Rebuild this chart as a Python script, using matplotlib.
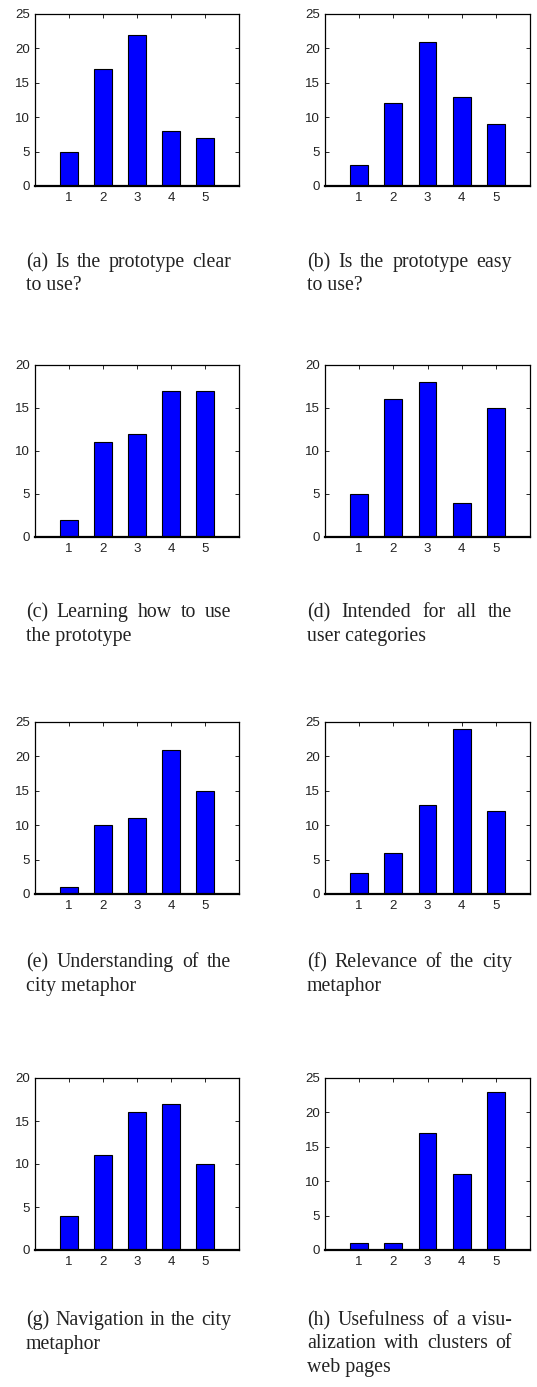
import matplotlib
matplotlib.use("Agg")
import matplotlib.pyplot as plt

# rating scale (x axis) and answer counts per question
ratings = [1, 2, 3, 4, 5]
clear_to_use = [5, 17, 22, 8, 7]
easy_to_use = [3, 12, 21, 13, 9]
learning = [2, 11, 12, 17, 17]
all_categories = [5, 16, 18, 4, 15]
understanding = [1, 10, 11, 21, 15]
relevance = [3, 6, 13, 24, 12]
navigation = [4, 11, 16, 17, 10]
usefulness = [1, 1, 17, 11, 23]

y_max = [25, 25, 20, 20, 25, 25, 20, 25]

captions = [
    ["(a) Is the prototype clear", "to use?"],
    ["(b) Is the prototype easy", "to use?"],
    ["(c) Learning how to use", "the prototype"],
    ["(d) Intended for all the", "user categories"],
    ["(e) Understanding of the", "city metaphor"],
    ["(f) Relevance of the city", "metaphor"],
    ["(g) Navigation in the city", "metaphor"],
    ["(h) Usefulness of a visu-", "alization with clusters of", "web pages"],
]

W, H = 537, 1387
fig = plt.figure(figsize=(W / 100, H / 100), dpi=100)
fig.patch.set_facecolor('white')
renderer = fig.canvas.get_renderer()

series = [clear_to_use, easy_to_use, learning, all_categories,
          understanding, relevance, navigation, usefulness]

# pixel layout (top-left origin)
col_left = [35, 325]
col_width = [204, 205]
row_top = [14, 365, 722, 1078]
ax_height = 172
cap_left = [26, 307]
cap_width = 205
cap_base = [267, 617, 967, 1325]
line_gap = 23.5

cap_font = dict(family='Liberation Serif', fontsize=14.3, color='#222222')


def place_justified(line, x, y, width, justify):
    """Put one caption line at pixel (x, y) baseline, stretched to width."""
    fx, fy = x / W, 1 - y / H
    if not justify:
        fig.text(fx, fy, line, ha='left', va='baseline', **cap_font)
        return
    words = line.split(' ')
    items = [fig.text(0, 0, w_, ha='left', va='baseline', **cap_font) for w_ in words]
    widths = [t.get_window_extent(renderer).width for t in items]
    gap = (width - sum(widths)) / (len(words) - 1)
    pos = x
    for t, w_ in zip(items, widths):
        t.set_position((pos / W, fy))
        pos += w_ + gap


for i, counts in enumerate(series):
    row, col = divmod(i, 2)
    left = col_left[col]
    top = row_top[row]
    ax = fig.add_axes([left / W, 1 - (top + ax_height) / H,
                       col_width[col] / W, ax_height / H])
    ax.bar(ratings, counts, width=0.52, color='#0000ff',
           edgecolor='black', linewidth=0.8, zorder=2)
    ax.set_xlim(0, 6)
    ax.set_ylim(0, y_max[i])
    ax.set_xticks(ratings)
    ax.set_yticks(range(0, y_max[i] + 1, 5))
    ax.tick_params(direction='in', length=3, width=0.6, top=True, right=True,
                   labelsize=9.5, colors='black')
    ax.tick_params(axis='x', pad=4.5)
    ax.tick_params(axis='y', pad=3.5)
    for lab in ax.get_xticklabels() + ax.get_yticklabels():
        lab.set_family('Liberation Sans')
        lab.set_color('#222222')
    for s in ax.spines.values():
        s.set_linewidth(0.9)
    ax.spines['bottom'].set_linewidth(1.6)

    lines = captions[i]
    for k, line in enumerate(lines):
        place_justified(line, cap_left[col], cap_base[row] + k * line_gap,
                        cap_width, justify=(k < len(lines) - 1))

fig.savefig('out.png', dpi=100, facecolor='white')
